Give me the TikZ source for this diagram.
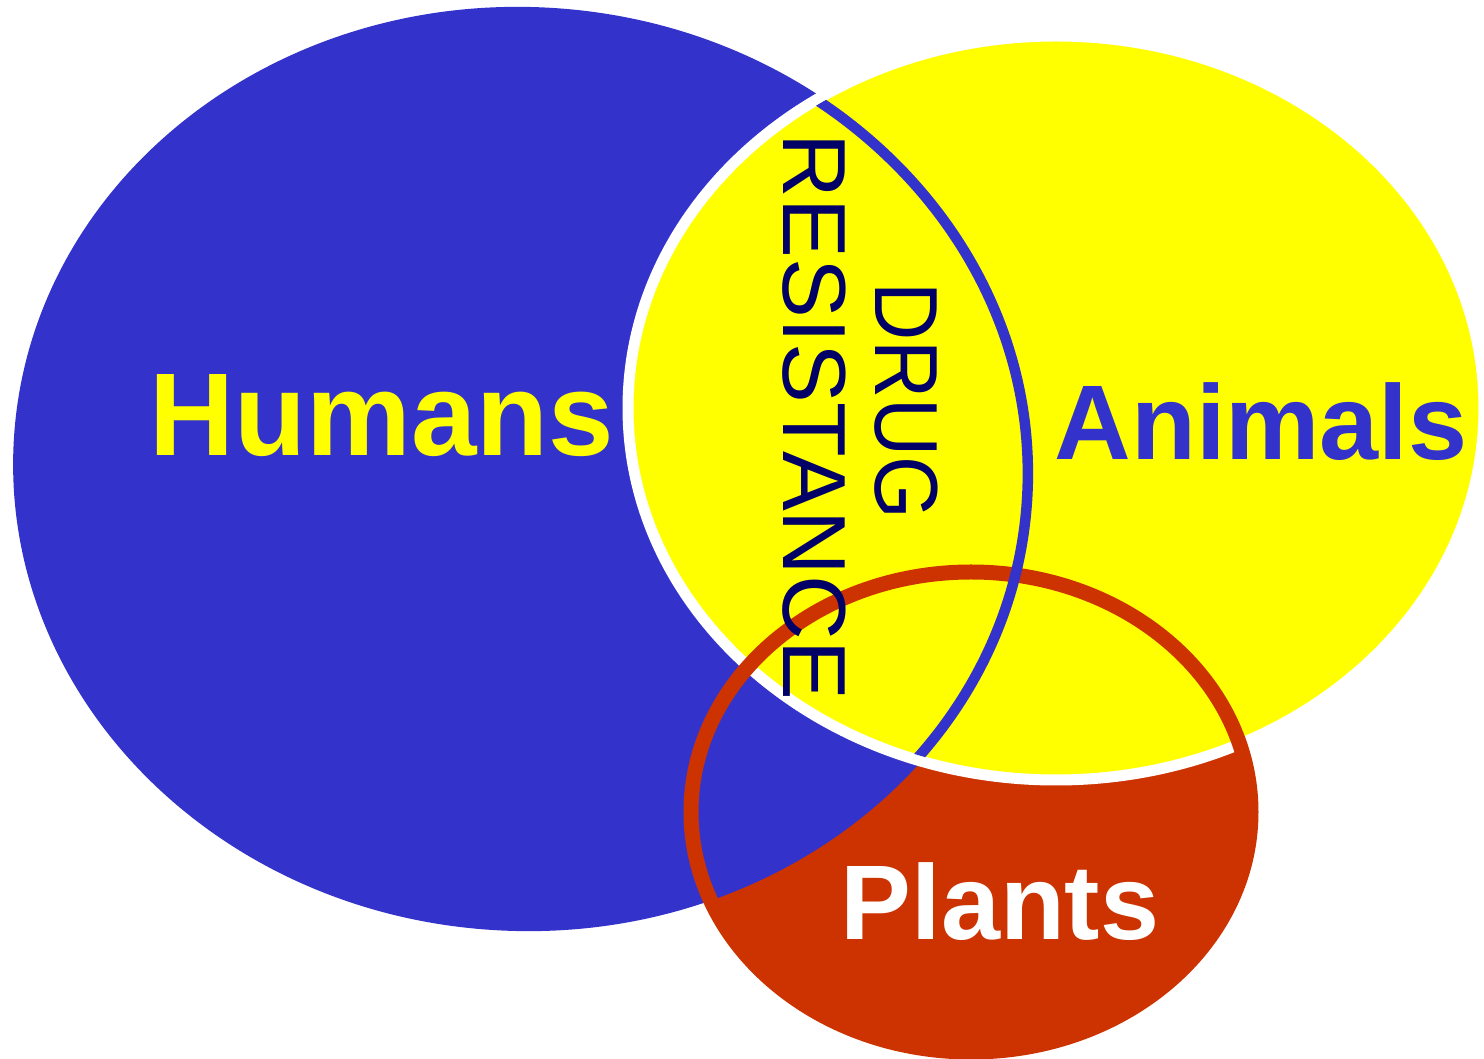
\documentclass[tikz,border=0pt]{standalone}
\usepackage{fontspec}
\setmainfont{Liberation Sans}
\usepackage{tikz}
\usetikzlibrary{positioning}
\definecolor{humanblue}{HTML}{3333CC}
\definecolor{animalyellow}{HTML}{FFFF00}
\definecolor{plantred}{HTML}{CC3300}
\definecolor{drugnavy}{HTML}{000066}
\tikzset{
  setlabel/.style={
    inner sep=0pt, anchor=base,
    font=\fontsize{30.2}{36}\selectfont\bfseries,
  },
  drugtext/.style={
    inner sep=0pt, anchor=base, rotate=-90,
    text=drugnavy, font=\fontsize{25.5}{30}\selectfont,
  },
}
\begin{document}
\begin{tikzpicture}[x=0.1mm,y=-0.1mm]
  \useasboundingbox (0,0) rectangle (1484,1059);
  % plants first, the other two sets lie over it
  \fill[plantred] (971,812) ellipse [x radius=280, y radius=240];
  \fill[humanblue, rotate around={-3:(523,469)}] (523,469) ellipse [x radius=510, y radius=462];
  \filldraw[fill=animalyellow, draw=white, line width=1.1mm] (1056,408) ellipse [x radius=428, y radius=372];
  \draw[plantred, line width=1.5mm] (971,812) ellipse [x radius=280, y radius=240];
  % humans outline, seen only inside animals
  \begin{scope}
    \clip (1056,408) ellipse [x radius=423, y radius=367];
    \draw[humanblue, line width=1.05mm, rotate around={-3:(523,469)}] (523,469) ellipse [x radius=505, y radius=457];
  \end{scope}
  \node[setlabel, text=animalyellow, font=\fontsize{33.5}{40}\selectfont\bfseries] (humans) at (382,456) {Humans};
  \node[setlabel, text=humanblue] (animals) at (1261,460) {Animals};
  \node[setlabel, text=white] (plants) at (1000,940) {Plants};
  \node[drugtext] (resistance) at (783,417) {RESISTANCE};
  \node[drugtext, xscale=0.9] (drug) at (875,401) {DRUG};
\end{tikzpicture}
\end{document}
